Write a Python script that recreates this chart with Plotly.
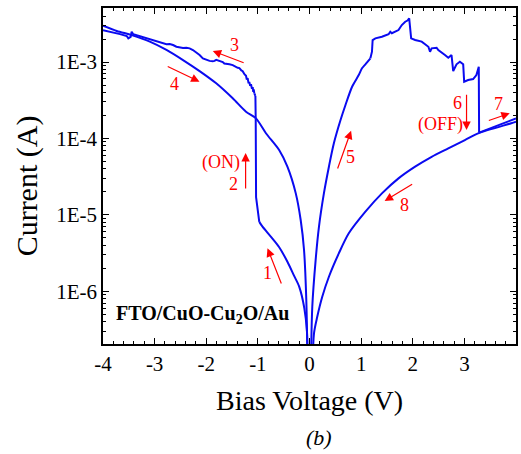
import plotly.graph_objects as go

# ---- data (Bias voltage in V, current in A) ----
# branch 1: 0 -> -1 V (high resistance state)
v_b1 = [-0.03, -0.05, -0.10, -0.20, -0.30, -0.43, -0.59, -0.75, -0.91, -0.973]
i_b1 = [5e-8, 3.0e-7, 6.0e-7, 1.15e-6, 1.6e-6, 2.45e-6, 3.8e-6, 5.2e-6, 7.0e-6, 8.1e-6]
# branch 2: SET jump (ON)
v_b2 = [-0.973, -1.035, -1.042, -1.048]
i_b2 = [8.1e-6, 1.7e-5, 1.8e-4, 3.6e-4]
# branch 3: -1 -> -4 V (low resistance state, noisy)
v_b3 = [-1.069, -1.08, -1.09, -1.10, -1.115, -1.133, -1.15, -1.166, -1.18, -1.198,
        -1.215, -1.23, -1.26, -1.294, -1.32, -1.358, -1.39, -1.422, -1.487, -1.551,
        -1.615, -1.65, -1.68, -1.744, -1.807, -1.84, -1.873, -1.936, -2.0, -2.065,
        -2.129, -2.193, -2.258, -2.322, -2.385, -2.45, -2.514, -2.578, -2.643, -2.707,
        -2.771, -2.836, -2.9, -2.963, -3.029, -3.093, -3.156, -3.222, -3.285, -3.349,
        -3.414, -3.445, -3.464, -3.51, -3.54, -3.67, -3.8, -3.927, -4.0]
i_b3 = [3.89e-4, 4.37e-4, 4.07e-4, 4.68e-4, 4.47e-4, 5.13e-4, 4.90e-4, 5.50e-4, 5.25e-4, 6.17e-4,
        5.89e-4, 6.61e-4, 6.92e-4, 7.59e-4, 7.76e-4, 8.32e-4, 8.41e-4, 8.71e-4, 9.12e-4, 9.33e-4,
        9.44e-4, 9.55e-4, 1.0e-3, 1.03e-3, 1.067e-3, 1.035e-3, 1.023e-3, 1.035e-3, 1.067e-3, 1.117e-3,
        1.236e-3, 1.34e-3, 1.435e-3, 1.51e-3, 1.54e-3, 1.53e-3, 1.563e-3, 1.585e-3, 1.67e-3, 1.72e-3,
        1.706e-3, 1.758e-3, 1.81e-3, 1.884e-3, 1.94e-3, 1.98e-3, 2.04e-3, 2.12e-3, 2.19e-3, 2.25e-3,
        2.31e-3, 2.49e-3, 2.14e-3, 2.04e-3, 2.19e-3, 2.32e-3, 2.415e-3, 2.52e-3, 2.60e-3]
# branch 4: -4 -> 0 V
v_b4 = [-4.0, -3.734, -3.445, -3.093, -2.771, -2.45, -2.129, -1.807, -1.487, -1.23,
        -1.037, -0.844, -0.588, -0.428, -0.266, -0.17, -0.106, -0.062, -0.03]
i_b4 = [2.99e-3, 2.55e-3, 2.25e-3, 1.85e-3, 1.44e-3, 1.06e-3, 7.6e-4, 5.26e-4, 3.35e-4, 2.24e-4,
        1.83e-4, 1.17e-4, 7.05e-5, 4.27e-5, 1.91e-5, 8.5e-6, 3.47e-6, 7.7e-7, 5e-8]
# branch 5a: 0 -> 1.2 V (smooth rise)
v_b5a = [0.02, 0.054, 0.119, 0.183, 0.279, 0.376, 0.472, 0.601, 0.697, 0.825,
         0.954, 1.017, 1.083, 1.179]
i_b5a = [5e-8, 6.27e-7, 2.56e-6, 6.98e-6, 1.91e-5, 4.27e-5, 8.63e-5, 1.74e-4, 2.74e-4, 4.75e-4,
         6.76e-4, 8.28e-4, 9.33e-4, 1.117e-3]
# branch 5b + 6: 1.2 -> 3.3 V (noisy), then RESET drop (OFF)
v_b5b = [1.179, 1.21, 1.223, 1.276, 1.403, 1.532, 1.565,
         1.595, 1.724, 1.788, 1.854, 1.898, 1.931, 1.969, 2.046, 2.173, 2.239,
         2.303, 2.335, 2.366, 2.462, 2.495, 2.624, 2.688, 2.751, 2.784, 2.848,
         2.913, 2.977, 2.996, 3.073, 3.17, 3.233, 3.279, 3.285]
i_b5b = [1.117e-3, 1.365e-3, 1.94e-3, 2.04e-3, 2.14e-3, 2.31e-3, 2.49e-3,
         2.38e-3, 2.62e-3, 3.05e-3, 3.37e-3, 3.49e-3, 3.73e-3, 2.04e-3, 1.94e-3, 1.85e-3, 1.71e-3,
         1.585e-3, 1.365e-3, 1.51e-3, 1.54e-3, 1.435e-3, 1.236e-3, 1.138e-3, 1.236e-3, 7.62e-4, 9.33e-4,
         1.01e-3, 9.33e-4, 5.52e-4, 5.81e-4, 5.98e-4, 6.76e-4, 8.67e-4, 1.19e-4]
# branch 7: 3.3 -> 4 V
v_b7 = [3.285, 4.0]
i_b7 = [1.19e-4, 1.83e-4]
# branch 8: 4 -> 0 V
v_b8 = [4.0, 3.908, 3.266, 3.01, 2.688, 2.366, 2.046, 1.724, 1.403, 1.083,
        0.761, 0.568, 0.376, 0.247, 0.15, 0.087, 0.05]
i_b8 = [1.656e-4, 1.58e-4, 1.167e-4, 9.53e-5, 7.41e-5, 5.75e-5, 4.27e-5, 3.0e-5, 1.91e-5, 1.1e-5,
        5.73e-6, 3.13e-6, 1.55e-6, 8.47e-7, 4.63e-7, 2.81e-7, 5e-8]

x_ticks = [-4, -3, -2, -1, 0, 1, 2, 3, 4]
x_ticklabels = ["-4", "-3", "-2", "-1", "0", "1", "2", "3", "4"]
y_ticks = [1e-6, 1e-5, 1e-4, 1e-3]
y_ticklabels = ["1E-6", "1E-5", "1E-4", "1E-3"]

FONT = "Liberation Serif"
RED = "#ff0000"
BLUE = "#0a0af0"

# plot area in pixels
L, R, T, B = 103, 518, 8, 344
W, H = 521, 454


def px(x):
    return (x - L) / (R - L)


def py(y):
    return (B - y) / (B - T)


fig = go.Figure()
segments = [(v_b1, i_b1, "spline"), (v_b2, i_b2, "linear"), (v_b3, i_b3, "linear"),
            (v_b4, i_b4, "spline"), (v_b5a, i_b5a, "spline"), (v_b5b, i_b5b, "linear"),
            (v_b7, i_b7, "linear"), (v_b8, i_b8, "spline")]
for vs, cs, shape in segments:
    fig.add_trace(go.Scatter(x=vs, y=cs, mode="lines",
                             line=dict(color=BLUE, width=2, shape=shape, smoothing=0.8),
                             showlegend=False, hoverinfo="skip"))
# join branch 2 -> 3 and 4 -> 5 visually (continuous sweep)
fig.add_trace(go.Scatter(x=[v_b2[-1], v_b3[0]], y=[i_b2[-1], i_b3[0]], mode="lines",
                         line=dict(color=BLUE, width=2), showlegend=False, hoverinfo="skip"))

minor_y = [k * 10.0 ** e for e in range(-7, -2) for k in range(2, 10)]

axis_common = dict(showline=True, linecolor="black", linewidth=1.6, mirror="ticks",
                   ticks="inside", tickcolor="black", tickwidth=1.3, ticklen=6,
                   showgrid=False, zeroline=False,
                   tickfont=dict(family=FONT, size=21, color="black"))

fig.update_xaxes(range=[-4, 4], tickmode="array", tickvals=x_ticks, ticktext=x_ticklabels,
                 minor=dict(ticks="inside", ticklen=3, tickwidth=1, tickcolor="black",
                            tickmode="linear", tick0=0, dtick=0.2, showgrid=False),
                 **axis_common)
fig.update_yaxes(type="log", range=[-6.69, -2.293], tickmode="array",
                 tickvals=y_ticks, ticktext=y_ticklabels,
                 minor=dict(ticks="inside", ticklen=3, tickwidth=1, tickcolor="black",
                            tickmode="array", tickvals=minor_y, showgrid=False),
                 **axis_common)

ann = []
# axis titles and captions
ann.append(dict(x=px(311), y=py(400), xref="paper", yref="paper", text="Bias Voltage (V)",
                showarrow=False, font=dict(family=FONT, size=28, color="black"),
                xanchor="center", yanchor="middle"))
ann.append(dict(x=px(27), y=py(186), xref="paper", yref="paper", text="Current (A)",
                showarrow=False, textangle=-90, font=dict(family=FONT, size=30, color="black"),
                xanchor="center", yanchor="middle"))
ann.append(dict(x=px(320), y=py(438), xref="paper", yref="paper", text="<i>(b)</i>",
                showarrow=False, font=dict(family=FONT, size=22, color="black"),
                xanchor="center", yanchor="middle"))
ann.append(dict(x=px(114), y=py(314), xref="paper", yref="paper",
                text="<b>FTO/CuO-Cu<sub>2</sub>O/Au</b>",
                showarrow=False, font=dict(family=FONT, size=20, color="black"),
                xanchor="left", yanchor="middle"))

# red labels
labels = [("3", 235, 45), ("4", 175, 84), ("(ON)", 222, 162), ("2", 234, 184),
          ("1", 268, 273), ("5", 352, 157), ("6", 459, 103), ("(OFF)", 442, 124),
          ("7", 500, 104), ("8", 406, 205)]
for t, x, y in labels:
    ann.append(dict(x=px(x), y=py(y), xref="paper", yref="paper", text=t, showarrow=False,
                    font=dict(family=FONT, size=18, color=RED),
                    xanchor="center", yanchor="middle"))

# red arrows: head (x, y), tail offset (dx, dy) in pixels
arrows = [(213.3, 51, 32.4, 12.3), (200, 81.7, -33.3, -16), (246.3, 153, 0, 37),
          (268.3, 248.3, 14.4, 36.7), (352.3, 130.7, -14, 39.3), (468.3, 130, 0, -36.7),
          (511.7, 113.3, -22.4, 7.7), (386, 201, 29, -17.7)]
for hx, hy, dx, dy in arrows:
    ann.append(dict(x=px(hx), y=py(hy), xref="paper", yref="paper", text="",
                    showarrow=True, ax=dx, ay=dy, axref="pixel", ayref="pixel",
                    arrowcolor=RED, arrowhead=2, arrowsize=1.4, arrowwidth=1.2))

fig.update_layout(width=W, height=H, margin=dict(l=L, r=W - R, t=T, b=H - B),
                  paper_bgcolor="white", plot_bgcolor="white", annotations=ann,
                  font=dict(family=FONT))

fig.write_html("out.html")
